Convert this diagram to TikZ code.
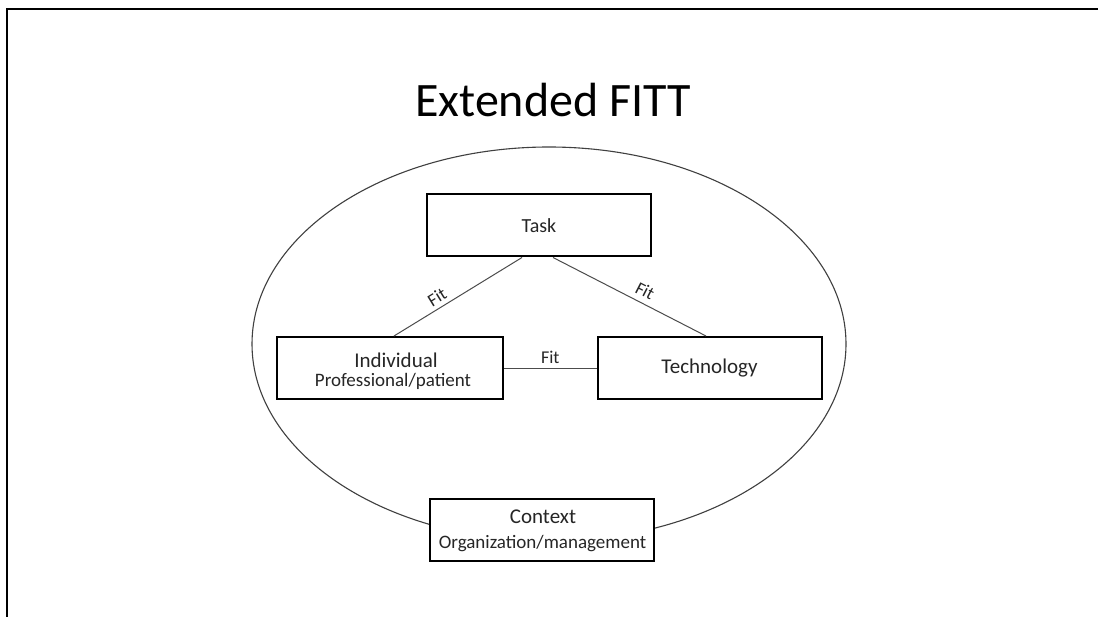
\documentclass[tikz,border=0pt]{standalone}
\usepackage{fontspec}
\setmainfont{Carlito}
\begin{document}
\begin{tikzpicture}[x=1pt,y=-1pt,
  box/.style={draw=black, line width=2pt, fill=white, minimum width=224pt, minimum height=62pt, inner sep=0pt, text=black!85, align=center},
  boxtxt/.style={anchor=base, inner sep=0pt, text=black!85},
  link/.style={draw=black!70, line width=1pt},
  fitlbl/.style={font=\fontsize{18}{18}\selectfont, text=black!85, inner sep=1.5pt}
]
\useasboundingbox (0,0) rectangle (1098,617);
\fill[white] (0,0) rectangle (1098,617);
% slide frame
\draw[line width=2pt, black] (7,617) -- (7,9) -- (1098,9);
% title
\node[anchor=base, font=\fontsize{48}{48}\selectfont, text=black] (title) at (553,117) {Extended FITT};
% context ellipse
\draw[black!75, line width=1.1pt] (549,344) ellipse [x radius=297pt, y radius=197pt];
% boxes
\node[box, font=\fontsize{20}{20}\selectfont] (task) at (539,225.5) {Task};
\node[box, minimum width=226pt] (ind) at (390,368) {};
\node[boxtxt, font=\fontsize{21}{21}\selectfont] (indA) at (396,368) {Individual};
\node[boxtxt, font=\fontsize{19}{19}\selectfont] (indB) at (393,387) {Professional/patient};
\node[box, font=\fontsize{21}{21}\selectfont] (tech) at (709.5,368) {Technology};
\node[box] (ctx) at (541.5,529.5) {};
\node[boxtxt, font=\fontsize{21}{21}\selectfont] (ctxA) at (543,523) {Context};
\node[boxtxt, font=\fontsize{19}{19}\selectfont] (ctxB) at (542.5,548) {Organization/management};
% connectors
\draw[link] ([xshift=-17pt]task.south) -- node[fitlbl, pos=0.62, sloped, above=2.5pt] (fit1) {Fit} ([xshift=4pt]ind.north);
\draw[link] ([xshift=14pt]task.south) -- node[fitlbl, pos=0.565, sloped, above=4pt] (fit2) {Fit} ([xshift=-3.5pt]tech.north);
\draw[link] ([yshift=-1pt]ind.east) -- node[fitlbl, above=3pt] (fit3) {Fit} ([yshift=-1pt]tech.west);
\end{tikzpicture}
\end{document}
